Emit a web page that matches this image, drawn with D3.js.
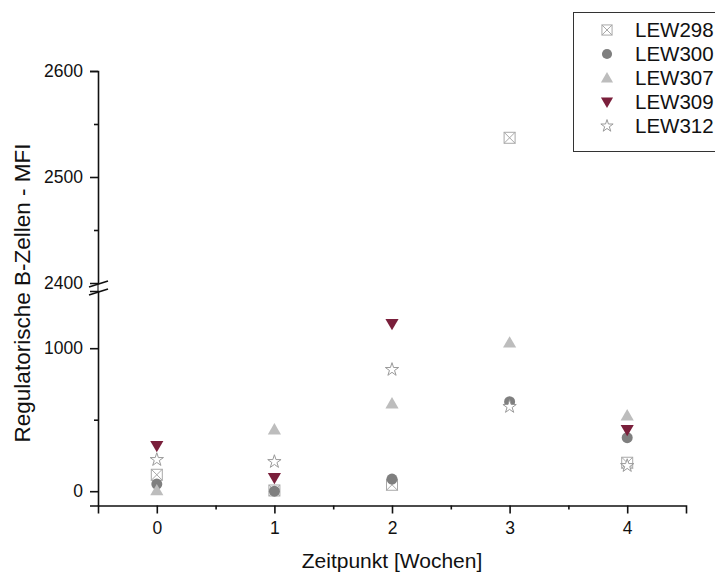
<!DOCTYPE html>
<html>
<head>
<meta charset="utf-8">
<script src="https://cdn.jsdelivr.net/npm/d3@7"></script>
<style>
  body { margin: 0; background: #fff; }
  text { font-family: "Liberation Sans", Arial, sans-serif; fill: #111; }
</style>
</head>
<body>
<div id="chart"></div>
<script>
// time points (weeks)
var weeks = [0, 1, 2, 3, 4];
var seriesNames = ["LEW298", "LEW300", "LEW307", "LEW309", "LEW312"];
// values, null = no point
var lew298 = [115, 5, 45, 2537, 199];
var lew300 = [50, 0, 85, 626, 374];
var lew307 = [5, 430, 612, 1038, 528];
var lew309 = [318, 94, 1171, null, 430];
var lew312 = [220, 206, 850, 591, 178];
var allValues = [lew298, lew300, lew307, lew309, lew312];

var xTicks = [0, 1, 2, 3, 4];
var yTicksUpper = [2400, 2500, 2600];
var yTicksLower = [0, 1000];

var width = 715, height = 572;

var svg = d3.select("#chart").append("svg")
    .attr("width", width)
    .attr("height", height);

var x = d3.scaleLinear().domain([-0.5, 4.5]).range([98, 686]);
var yUp = d3.scaleLinear().domain([2400, 2600]).range([283, 71]);
var yLow = d3.scaleLinear().domain([-100, 1400]).range([505.5, 291]);

function yPos(v) { return v >= 2400 ? yUp(v) : yLow(v); }

// x axis
svg.append("g")
    .attr("transform", "translate(0," + yLow(-100) + ")")
    .call(d3.axisBottom(x).tickValues(xTicks).tickSize(8).tickPadding(8).tickFormat(d3.format("d")));
svg.append("g")
    .attr("transform", "translate(0," + yLow(-100) + ")")
    .call(d3.axisBottom(x).tickValues([0.5, 1.5, 2.5, 3.5]).tickSize(4).tickFormat(""))
    .select(".domain").remove();

// y axis, two segments
var upAxis = svg.append("g")
    .attr("transform", "translate(" + x(-0.5) + ",0)")
    .call(d3.axisLeft(yUp).tickValues(yTicksUpper).tickSize(8).tickPadding(7).tickFormat(d3.format("d")));
upAxis.selectAll(".tick").filter(function(d) { return d == 2400; }).select("line").remove();
svg.append("g")
    .attr("transform", "translate(" + x(-0.5) + ",0)")
    .call(d3.axisLeft(yUp).tickValues([2450, 2550]).tickSize(4).tickFormat(""))
    .select(".domain").remove();

svg.append("g")
    .attr("transform", "translate(" + x(-0.5) + ",0)")
    .call(d3.axisLeft(yLow).tickValues(yTicksLower).tickSize(8).tickPadding(7).tickFormat(d3.format("d")));
svg.append("g")
    .attr("transform", "translate(" + x(-0.5) + ",0)")
    .call(d3.axisLeft(yLow).tickValues([500]).tickSize(4).tickFormat(""))
    .select(".domain").remove();

// fill the gap between the two segments
svg.append("line")
    .attr("x1", x(-0.5)).attr("x2", x(-0.5))
    .attr("y1", yUp(2400)).attr("y2", yLow(1400))
    .attr("stroke", "#000");

svg.selectAll(".domain").attr("stroke", "#111").attr("stroke-width", 1.6);
svg.selectAll(".tick line").attr("stroke", "#111").attr("stroke-width", 1.6);
svg.selectAll(".tick text").style("font-size", "17.5px").attr("fill", "#111");

// break marks
[284, 292].forEach(function(yy) {
  svg.append("line")
      .attr("x1", x(-0.5) - 9).attr("y1", yy + 3)
      .attr("x2", x(-0.5) + 10).attr("y2", yy - 3)
      .attr("stroke", "#111").attr("stroke-width", 1.6);
});

// axis titles
svg.append("text")
    .attr("x", x(2)).attr("y", 568)
    .attr("text-anchor", "middle")
    .style("font-size", "21px")
    .text("Zeitpunkt [Wochen]");

svg.append("text")
    .attr("transform", "translate(30,293) rotate(-90)")
    .attr("text-anchor", "middle")
    .style("font-size", "22.5px")
    .text("Regulatorische B-Zellen - MFI");

// marker drawing
function drawMarker(g, i, k) {
  var triUp = d3.symbol().type(d3.symbolTriangle).size(75 * k);
  var circ = d3.symbol().type(d3.symbolCircle).size(95 * k);
  var star = d3.symbol().type(d3.symbolStar).size(55 * k);
  var h = 5.5 * Math.sqrt(k);
  if (i == 0) {
    g.append("rect").attr("x", -h).attr("y", -h).attr("width", 2 * h).attr("height", 2 * h)
        .attr("fill", "none").attr("stroke", "#a8a8a8").attr("stroke-width", 1);
    g.append("path").attr("d", "M" + -h + "," + -h + "L" + h + "," + h + "M" + h + "," + -h + "L" + -h + "," + h)
        .attr("stroke", "#a8a8a8").attr("stroke-width", 1);
  } else if (i == 1) {
    g.append("path").attr("d", circ).attr("fill", "#7f7f7f");
  } else if (i == 2) {
    g.append("path").attr("d", triUp).attr("fill", "#bdbdbd").attr("transform", "translate(0,1)");
  } else if (i == 3) {
    g.append("path").attr("d", triUp).attr("fill", "#7a1f3b").attr("transform", "translate(0,-1) rotate(180)");
  } else {
    g.append("path").attr("d", star).attr("fill", "#fff")
        .attr("stroke", "#9a9a9a").attr("stroke-width", 1);
  }
}

allValues.forEach(function(vals, i) {
  svg.append("g").selectAll("g")
    .data(weeks.filter(function(w, j) { return vals[j] != null; }))
    .enter().append("g")
    .attr("transform", function(w) { return "translate(" + x(w) + "," + yPos(vals[weeks.indexOf(w)]) + ")"; })
    .each(function() { drawMarker(d3.select(this), i, 1); });
});

// legend
var legend = svg.append("g");
legend.append("rect")
    .attr("x", 573.5).attr("y", 12.5)
    .attr("width", 160).attr("height", 139)
    .attr("fill", "#fff").attr("stroke", "#333").attr("stroke-width", 1);

seriesNames.forEach(function(name, i) {
  var ly = 30 + i * 24;
  var g = legend.append("g").attr("transform", "translate(607," + ly + ")");
  drawMarker(g, i, 0.85);
  legend.append("text")
      .attr("x", 635).attr("y", ly + 7)
      .style("font-size", "20.5px")
      .text(name);
});
</script>
</body>
</html>
